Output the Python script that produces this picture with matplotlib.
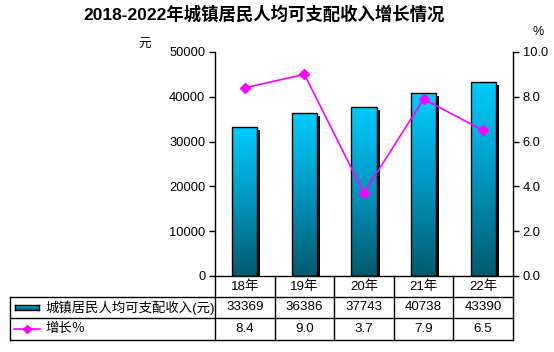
import matplotlib
matplotlib.use("Agg")
import matplotlib.pyplot as plt
import numpy as np
from matplotlib.lines import Line2D
from matplotlib.patches import Rectangle
from matplotlib.colors import LinearSegmentedColormap

plt.rcParams['font.family'] = ['Liberation Sans', 'Noto Sans CJK SC', 'DejaVu Sans']

categories = ["18年", "19年", "20年", "21年", "22年"]
income = [33369, 36386, 37743, 40738, 43390]
growth = [8.4, 9.0, 3.7, 7.9, 6.5]
income_labels = ["33369", "36386", "37743", "40738", "43390"]
growth_labels = ["8.4", "9.0", "3.7", "7.9", "6.5"]
series_income = "城镇居民人均可支配收入(元)"
series_growth = "增长％"
title = "2018-2022年城镇居民人均可支配收入增长情况"

W, H = 554, 352
fig = plt.figure(figsize=(W / 100, H / 100), dpi=100)

def fx(px):
    return px / W

def fy(py):
    return 1 - py / H

L, R, T, B = 215, 513, 52, 276
ax = fig.add_axes([fx(L), fy(B), fx(R) - fx(L), fy(T) - fy(B)])
ax.set_xticks([])
for s in ["top", "bottom", "right"]:
    ax.spines[s].set_visible(False)
ax.spines["left"].set_linewidth(1.0)
ax.tick_params(axis="y", direction="out", length=4, width=1, labelsize=9.3, pad=3)

grad = np.linspace(0, 1, 256).reshape(-1, 1)
cmap = LinearSegmentedColormap.from_list("g", ["#005a6e", "#0096c0", "#00ccff"])

bw = 0.42
x = np.arange(len(categories))
sx = 3 / ((R - L) / len(categories))
sy = 3 / (B - T) * 50000
for xi, v in zip(x, income):
    ax.add_patch(Rectangle((xi - bw / 2 + sx, 0), bw, v - sy, facecolor="black",
                           edgecolor="none", zorder=1))
    rect = Rectangle((xi - bw / 2, 0), bw, v, facecolor="none", edgecolor="black",
                     linewidth=1.0, zorder=3)
    ax.add_patch(rect)
    im = ax.imshow(grad, extent=(xi - bw / 2, xi + bw / 2, 0, v), origin="lower",
                   cmap=cmap, aspect="auto", zorder=2)
    im.set_clip_path(rect)
ax.set_xlim(-0.5, len(categories) - 0.5)
ax.set_ylim(0, 50000)
ax.set_yticks(np.arange(0, 50001, 10000))

ax2 = ax.twinx()
ax2.set_ylim(0, 10)
ax2.set_yticks(np.arange(0, 10.1, 2))
ax2.set_yticklabels([f"{t:.1f}" for t in np.arange(0, 10.1, 2)])
for s in ["top", "bottom", "left"]:
    ax2.spines[s].set_visible(False)
ax2.spines["right"].set_linewidth(1.0)
ax2.tick_params(axis="y", direction="out", length=4, width=1, labelsize=9.3, pad=3)
ax2.plot(x, growth, color="#ff00ff", linewidth=1.2, marker="D", markersize=5,
         markerfacecolor="#ff00ff", markeredgecolor="#ff00ff", zorder=5)

fig.text(fx(264), fy(14), title, ha="center", va="center", fontsize=12.5,
         fontweight="bold")
fig.text(fx(145), fy(45), "元", ha="center", va="center", fontsize=9)
fig.text(fx(538), fy(32), "%", ha="center", va="center", fontsize=9)

rows = [276, 297, 318, 340]
colx = [L + (R - L) * i / len(categories) for i in range(len(categories) + 1)]
TL = 10
lw = 1.0
def hline(y, x0, x1):
    fig.add_artist(Line2D([fx(x0), fx(x1)], [fy(y), fy(y)], color="black", lw=lw))
def vline(xp, y0, y1):
    fig.add_artist(Line2D([fx(xp), fx(xp)], [fy(y0), fy(y1)], color="black", lw=lw))

hline(rows[0], L, R)
for y in rows[1:]:
    hline(y, TL, R)
vline(TL, rows[1], rows[3])
for c in colx:
    vline(c, rows[0], rows[3])

fs = 9.6
for i in range(len(categories)):
    cx = (colx[i] + colx[i + 1]) / 2
    fig.text(fx(cx), fy((rows[0] + rows[1]) / 2), categories[i], ha="center",
             va="center", fontsize=fs)
    fig.text(fx(cx), fy((rows[1] + rows[2]) / 2), income_labels[i], ha="center",
             va="center", fontsize=fs)
    fig.text(fx(cx), fy((rows[2] + rows[3]) / 2), growth_labels[i], ha="center",
             va="center", fontsize=fs)

ky1 = (rows[1] + rows[2]) / 2
lax = fig.add_axes([fx(15), fy(ky1 + 2.5), fx(39) - fx(15), fy(ky1 - 2.5) - fy(ky1 + 2.5)])
lax.imshow(grad, origin="lower", cmap=cmap, aspect="auto", extent=(0, 1, 0, 1))
lax.set_xticks([]); lax.set_yticks([])
for s in lax.spines.values():
    s.set_linewidth(1.0)
fig.text(fx(45), fy(ky1), series_income, ha="left", va="center", fontsize=fs)

ky2 = (rows[2] + rows[3]) / 2
fig.add_artist(Line2D([fx(14), fx(40)], [fy(ky2), fy(ky2)], color="#ff00ff", lw=1.2))
fig.add_artist(Line2D([fx(27)], [fy(ky2)], color="#ff00ff", marker="D", markersize=4.5))
fig.text(fx(45), fy(ky2), series_growth, ha="left", va="center", fontsize=fs)

fig.savefig("out.png", dpi=100)
